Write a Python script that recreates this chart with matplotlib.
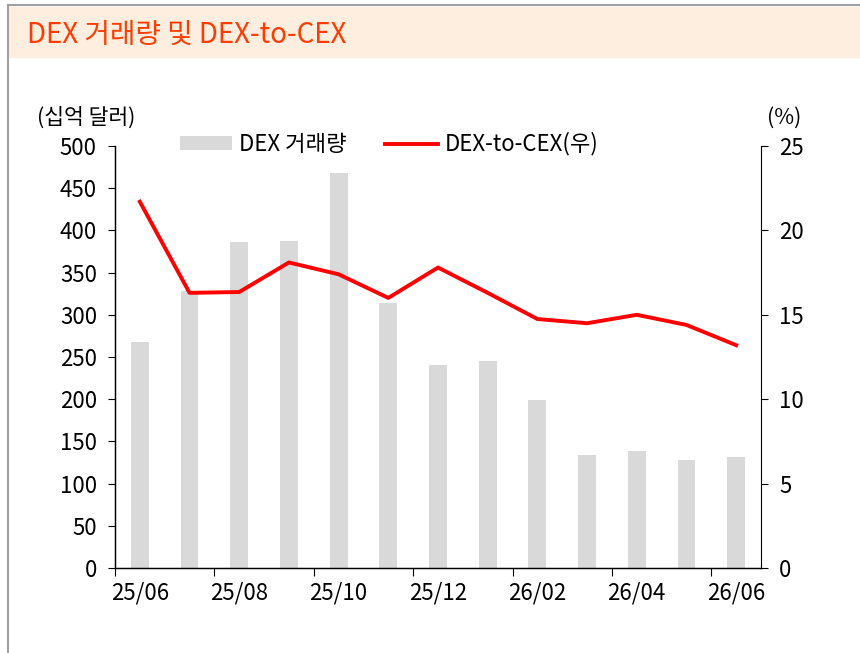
import matplotlib
matplotlib.use("Agg")
from matplotlib import pyplot as plt
from matplotlib.patches import Rectangle
from matplotlib.lines import Line2D

plt.rcParams['font.family'] = ['Noto Sans CJK KR', 'DejaVu Sans']

# data
months = ["25/06", "25/07", "25/08", "25/09", "25/10", "25/11", "25/12",
          "26/01", "26/02", "26/03", "26/04", "26/05", "26/06"]
dex_volume = [268, 328, 386, 388, 468, 314, 240, 245, 199, 134, 139, 128, 132]
dex_to_cex = [21.7, 16.3, 16.35, 18.1, 17.4, 16.0, 17.8, 16.3, 14.75, 14.5, 15.0, 14.4, 13.2]

W, H = 860, 653
fig = plt.figure(figsize=(8.6, 6.53), dpi=100)

# title band + frame lines
fig.patches.append(Rectangle((8 / W, 1 - 57 / H), 1 - 8 / W, 50 / H,
                             transform=fig.transFigure, color="#fdeedf", zorder=0))
fig.add_artist(Line2D([8 / W, 1], [1 - 5 / H, 1 - 5 / H], transform=fig.transFigure,
                      color="#a0a0a0", lw=1.5))
fig.add_artist(Line2D([8 / W, 8 / W], [0, 1 - 5 / H], transform=fig.transFigure,
                      color="#a0a0a0", lw=1.5))
fig.text(27 / W, 1 - 35 / H, "DEX 거래량 및 DEX-to-CEX", color="#ff3c00",
         fontsize=20, va="center", ha="left")

ax = fig.add_axes([115 / W, 1 - 568 / H, 646 / W, 422 / H])
x = list(range(len(months)))
ax.bar(x, dex_volume, width=0.36, color="#d9d9d9", label="DEX 거래량", zorder=1)
ax.set_xlim(-0.5, len(months) - 0.5)
ax.set_ylim(0, 500)
ax.set_yticks(range(0, 501, 50))
ax.spines["top"].set_visible(False)
ax.spines["right"].set_visible(False)
for s in ("left", "bottom"):
    ax.spines[s].set_linewidth(1.0)
ax.tick_params(axis="y", direction="out", length=5, labelsize=16, pad=8)

# x ticks: marks at boundaries, labels at category centers
ax.set_xticks([i - 0.5 for i in range(0, len(months) + 1, 2)])
ax.set_xticklabels([])
ax.set_xticks(x[::2], minor=True)
ax.set_xticklabels(months[::2], minor=True)
ax.tick_params(axis="x", which="major", direction="out", length=6)
ax.tick_params(axis="x", which="minor", length=0, labelsize=16, pad=10)

ax2 = ax.twinx()
ax2.plot(x, dex_to_cex, color="#ff0000", lw=2.8, label="DEX-to-CEX(우)", zorder=3)
ax2.set_ylim(0, 25)
ax2.set_yticks(range(0, 26, 5))
ax2.spines["top"].set_visible(False)
ax2.tick_params(axis="y", direction="out", length=5, labelsize=16, pad=8)

fig.text(37 / W, 1 - 118 / H, "(십억 달러)", fontsize=15.5, va="center", ha="left")
fig.text(784 / W, 1 - 118 / H, "(%)", fontsize=15.5, va="center", ha="center")

h1, l1 = ax.get_legend_handles_labels()
h2, l2 = ax2.get_legend_handles_labels()
fig.legend(h1 + h2, l1 + l2, loc="center left", bbox_to_anchor=(160 / W, 1 - 144 / H),
           ncol=2, frameon=False, fontsize=16, handlelength=2.35, handleheight=0.55,
           columnspacing=1.75, handletextpad=0.3)

fig.savefig("out.png", dpi=100)
